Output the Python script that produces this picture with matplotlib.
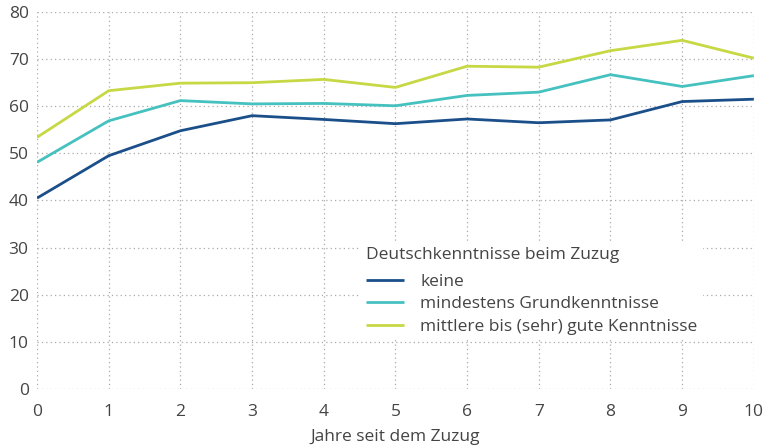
import matplotlib.pyplot as plt
import numpy as np

plt.rcParams['font.family'] = ['Open Sans', 'DejaVu Sans']

# Jahre seit dem Zuzug
jahre = np.arange(0, 11)
keine = [40.5, 49.5, 54.8, 58.0, 57.2, 56.3, 57.3, 56.5, 57.1, 61.0, 61.5]
grund = [48.1, 56.9, 61.2, 60.5, 60.6, 60.1, 62.3, 63.0, 66.7, 64.2, 66.5]
gut = [53.4, 63.3, 64.9, 65.0, 65.7, 64.0, 68.5, 68.3, 71.8, 74.0, 70.2]
labels = ["keine", "mindestens Grundkenntnisse", "mittlere bis (sehr) gute Kenntnisse"]
farben = ["#1b4f8a", "#45c1bf", "#c6d843"]

fig = plt.figure(figsize=(7.63, 4.46), dpi=100)
ax = fig.add_axes([0.0485, 0.128, 0.9395, 0.845])

for werte, lab, col in zip([keine, grund, gut], labels, farben):
    ax.plot(jahre, werte, color=col, lw=2.0, label=lab, solid_capstyle='butt')

ax.set_xlim(0, 10)
ax.set_ylim(0, 80)
ax.set_xticks(jahre)
ax.set_yticks(np.arange(0, 81, 10))
ax.grid(True, linestyle=(0, (1, 2.5)), color='#aaaaaa', lw=0.9)
ax.set_axisbelow(True)
for s in ax.spines.values():
    s.set_visible(False)
ax.tick_params(length=0, labelsize=12.5, colors='#444444')
ax.tick_params(axis='x', pad=11)
ax.tick_params(axis='y', pad=6)
ax.set_xlabel("Jahre seit dem Zuzug", fontsize=12.5, color='#444444', labelpad=6)

leg = ax.legend(title="Deutschkenntnisse beim Zuzug", loc='upper left',
                bbox_to_anchor=(0.44, 0.414), frameon=True, fancybox=False,
                fontsize=12.5, title_fontsize=12.5, handlelength=2.2,
                handletextpad=0.9, labelspacing=0.36, borderpad=0.3,
                alignment='left')
leg._legend_box.sep = 8  # etwas mehr Abstand unter dem Titel
leg.get_frame().set_facecolor('white')
leg.get_frame().set_edgecolor('none')
leg.get_frame().set_alpha(1)
for t in leg.get_texts():
    t.set_color('#444444')
leg.get_title().set_color('#444444')

fig.savefig("out.png", dpi=100)
